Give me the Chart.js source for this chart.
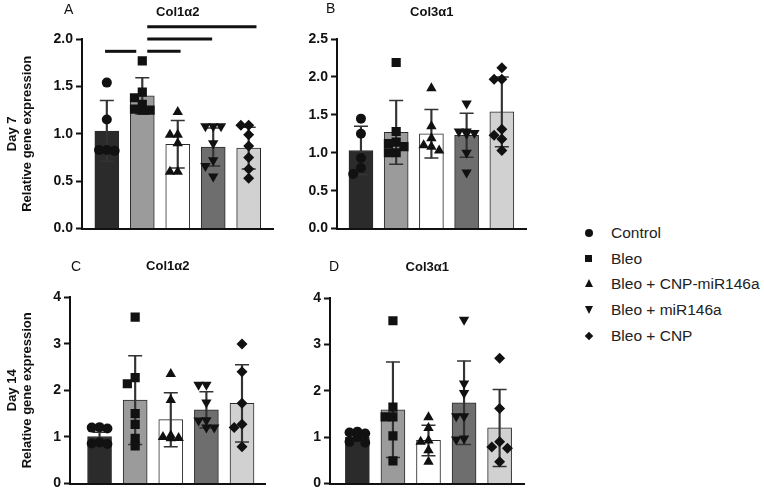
<!DOCTYPE html>
<html>
<head>
<meta charset="utf-8">
<script src="https://cdn.jsdelivr.net/npm/chart.js@4.4.0/dist/chart.umd.min.js"></script>
<style>
  body { margin: 0; background: #fff; width: 764px; height: 498px; position: relative; overflow: hidden;
         font-family: "Liberation Sans", Arial, sans-serif; color: #111; }
  .panel { position: absolute; }
  .letter { position: absolute; font-size: 14px; line-height: 14px; color: #111; }
  .leg { position: absolute; left: 580px; font-size: 15.5px; line-height: 18px; color: #222; white-space: nowrap; }
  .leg span.t { position: absolute; left: 31px; top: 0; }
  .mk { position: absolute; background: #111; }
  .circ { width: 8px; height: 8px; border-radius: 50%; left: 5px; top: 5px; }
  .sq { width: 7px; height: 7px; left: 5px; top: 5px; }
  .up { width: 0; height: 0; background: none; border-left: 4.5px solid transparent; border-right: 4.5px solid transparent; border-bottom: 8px solid #111; left: 4.5px; top: 4px; }
  .dn { width: 0; height: 0; background: none; border-left: 4.5px solid transparent; border-right: 4.5px solid transparent; border-top: 8px solid #111; left: 4.5px; top: 5px; }
  .dia { width: 6px; height: 6px; transform: rotate(45deg); left: 6px; top: 6px; }
</style>
</head>
<body>
<div class="panel" style="left:0;top:0"><canvas id="cA" width="282" height="240"></canvas></div>
<div class="panel" style="left:290px;top:0"><canvas id="cB" width="245" height="240"></canvas></div>
<div class="panel" style="left:0;top:250px"><canvas id="cC" width="274" height="245"></canvas></div>
<div class="panel" style="left:280px;top:250px"><canvas id="cD" width="253" height="245"></canvas></div>

<div class="letter" style="left:64px;top:2px">A</div>
<div class="letter" style="left:326px;top:1px">B</div>
<div class="letter" style="left:71px;top:259px">C</div>
<div class="letter" style="left:329px;top:259px">D</div>

<div class="leg" style="top:224px"><i class="mk circ"></i><span class="t">Control</span></div>
<div class="leg" style="top:250px"><i class="mk sq"></i><span class="t">Bleo</span></div>
<div class="leg" style="top:275px"><i class="mk up"></i><span class="t">Bleo + CNP-miR146a</span></div>
<div class="leg" style="top:301px"><i class="mk dn"></i><span class="t">Bleo + miR146a</span></div>
<div class="leg" style="top:327px"><i class="mk dia"></i><span class="t">Bleo + CNP</span></div>

<script>
Chart.defaults.font.family = '"Liberation Sans", Arial, sans-serif';
Chart.defaults.color = '#111';

const groups = ['Control', 'Bleo', 'Bleo + CNP-miR146a', 'Bleo + miR146a', 'Bleo + CNP'];

// Day 7, Col1a2 (panel A)
const d7Col1Mean = [1.03, 1.40, 0.89, 0.86, 0.85];
const d7Col1Sd = [0.32, 0.19, 0.25, 0.20, 0.22];
const d7Col1Pts = [
  [1.54, 1.15, 0.83, 0.83, 0.82],
  [1.77, 1.44, 1.38, 1.31, 1.26, 1.25, 1.25],
  [1.23, 0.99, 0.99, 0.90, 0.60, 0.60],
  [1.08, 1.08, 1.08, 0.90, 0.72, 0.66, 0.55],
  [1.09, 1.09, 0.99, 0.87, 0.75, 0.63, 0.53]
];
// significance bars in panel A: from / to (group index), height
const sigFrom = [-0.05, 1.14, 1.14, 1.14];
const sigTo = [0.83, 2.08, 2.97, 4.22];
const sigY = [1.87, 1.87, 2.0, 2.13];

// Day 7, Col3a1 (panel B)
const d7Col3Mean = [1.03, 1.27, 1.25, 1.23, 1.54];
const d7Col3Sd = [0.32, 0.42, 0.32, 0.29, 0.46];
const d7Col3Pts = [
  [1.45, 1.25, 0.93, 0.80, 0.72],
  [2.19, 1.28, 1.14, 1.12, 1.08, 1.00, 1.00],
  [1.85, 1.35, 1.19, 1.10, 1.08, 1.03],
  [1.65, 1.28, 1.28, 1.26, 1.25, 1.00, 0.74],
  [2.12, 1.97, 1.97, 1.31, 1.23, 1.18, 1.03]
];

// Day 14, Col1a2 (panel C)
const d14Col1Mean = [1.01, 1.79, 1.37, 1.58, 1.72];
const d14Col1Sd = [0.09, 0.95, 0.58, 0.39, 0.83];
const d14Col1Pts = [
  [1.21, 1.20, 1.18, 0.88, 0.86, 0.85],
  [3.57, 2.27, 2.14, 1.50, 1.27, 0.97, 0.81],
  [2.35, 1.79, 1.03, 1.00, 0.98, 0.97],
  [2.12, 2.12, 1.74, 1.36, 1.35, 1.20, 1.20],
  [2.99, 2.40, 1.72, 1.27, 1.20, 0.79]
];

// Day 14, Col3a1 (panel D)
const d14Col3Mean = [1.00, 1.59, 0.93, 1.74, 1.20];
const d14Col3Sd = [0.08, 1.03, 0.33, 0.90, 0.83];
const d14Col3Pts = [
  [1.12, 1.10, 1.08, 1.00, 0.90, 0.88],
  [3.51, 1.65, 1.44, 1.44, 1.03, 0.49],
  [1.43, 1.20, 0.93, 0.90, 0.72, 0.47],
  [3.53, 2.16, 1.95, 1.45, 1.45, 0.97, 0.95],
  [2.70, 1.62, 0.90, 0.79, 0.76, 0.47]
];

const barColors = ['#2b2b2b', '#9b9b9b', '#ffffff', '#6e6e6e', '#d1d1d1'];
const pointStyles = ['circle', 'rect', 'triangle', 'triangle', 'rectRot'];
const pointRots = [0, 0, 0, 180, 0];
const pointSizes = [5, 6.5, 6, 6, 5.5];

// simple beeswarm so points with close values sit side by side
function swarm(vals, center, pxY) {
  const cand = [0, -0.22, 0.22, -0.11, 0.11, -0.33, 0.33];
  const placed = [];
  return vals.map(v => {
    let off = 0;
    for (const c of cand) {
      if (placed.every(p => Math.hypot((p.o - c) * 36, (p.v - v) * pxY) >= 7.5)) { off = c; break; }
    }
    placed.push({ o: off, v: v });
    return { x: center + off, y: v };
  });
}

function panel(id, c) {
  const datasets = [];
  datasets.push({
    type: 'bar', xAxisID: 'x', yAxisID: 'y', order: 5, grouped: false,
    data: c.mean.map((m, i) => ({ x: i, y: m })),
    backgroundColor: barColors, borderColor: '#2a2a2a', borderWidth: 1,
    barThickness: 24
  });
  datasets.push({
    type: 'bar', xAxisID: 'x', yAxisID: 'y', order: 4, grouped: false,
    data: c.mean.map((m, i) => ({ x: i, y: [m - c.sd[i], m + c.sd[i]] })),
    backgroundColor: '#333', borderWidth: 0, barThickness: 1.5
  });
  datasets.push({
    type: 'scatter', xAxisID: 'x', yAxisID: 'y', order: 3,
    data: c.mean.flatMap((m, i) => [{ x: i, y: m + c.sd[i] }, { x: i, y: m - c.sd[i] }]),
    pointStyle: 'line', pointRadius: 7, borderColor: '#333', borderWidth: 1.5
  });
  c.pts.forEach((vals, i) => {
    datasets.push({
      type: 'scatter', xAxisID: 'x', yAxisID: 'y', order: 1, label: groups[i],
      data: swarm(vals, i, c.pxY),
      pointStyle: pointStyles[i], rotation: pointRots[i], pointRadius: pointSizes[i],
      backgroundColor: '#111', borderColor: '#111', borderWidth: 0
    });
  });
  (c.sig || []).forEach(s => {
    datasets.push({
      type: 'line', xAxisID: 'x', yAxisID: 'y', order: 0, clip: false,
      data: [{ x: s[0], y: s[2] }, { x: s[1], y: s[2] }],
      borderColor: '#111', borderWidth: 3, pointRadius: 0
    });
  });

  new Chart(document.getElementById(id), {
    type: 'bar',
    data: { datasets },
    options: {
      responsive: false,
      animation: false,
      events: [],
      layout: { padding: { left: 0, right: 5, top: 0, bottom: c.padBottom } },
      plugins: { legend: { display: false }, tooltip: { enabled: false } },
      scales: {
        x: {
          type: 'linear', position: 'bottom', min: c.xMin, max: c.xMax, offset: false,
          ticks: { display: false }, grid: { display: false },
          border: { display: true, color: '#111', width: 2 },
          afterFit: s => { s.height = 0; }
        },
        xt: {
          type: 'linear', position: 'top', axis: 'x',
          ticks: { display: false }, grid: { display: false }, border: { display: false },
          title: { display: true, text: c.title, font: { size: 13, weight: 'bold' }, color: '#111',
                   padding: { top: c.titleTop, bottom: 0 } },
          afterFit: s => { s.height = c.topH; }
        },
        y: {
          min: 0, max: c.yMax,
          ticks: { stepSize: c.step, padding: 3, color: '#111', font: { size: 14, weight: 'bold' },
                   callback: v => c.step < 1 ? v.toFixed(1) : String(v) },
          grid: { drawOnChartArea: false, tickLength: 6, tickWidth: 2, color: '#111' },
          border: { display: true, color: '#111', width: 2 },
          title: { display: !!c.yTitle, text: c.yTitle || '', font: { size: 13, weight: 'bold', lineHeight: 1.15 },
                   color: '#111', padding: { top: 5, bottom: 0 } },
          afterFit: s => { s.width = c.yW; }
        }
      }
    }
  });
}

panel('cA', {
  title: 'Col1α2', mean: d7Col1Mean, sd: d7Col1Sd, pts: d7Col1Pts,
  sig: sigFrom.map((f, i) => [f, sigTo[i], sigY[i]]),
  yMax: 2.0, step: 0.5, pxY: 95.5, xMin: -0.7, xMax: 4.7,
  yW: 82, topH: 39, titleTop: 5, padBottom: 10,
  yTitle: ['Day 7', 'Relative gene expression']
});
panel('cB', {
  title: 'Col3α1', mean: d7Col3Mean, sd: d7Col3Sd, pts: d7Col3Pts,
  yMax: 2.5, step: 0.5, pxY: 76.7, xMin: -0.68, xMax: 4.7,
  yW: 47, topH: 39, titleTop: 5, padBottom: 10
});
panel('cC', {
  title: 'Col1α2', mean: d14Col1Mean, sd: d14Col1Sd, pts: d14Col1Pts,
  yMax: 4, step: 1, pxY: 48, xMin: -0.83, xMax: 4.66,
  yW: 70, topH: 47, titleTop: 9, padBottom: 6.5,
  yTitle: ['Day 14', 'Relative gene expression']
});
panel('cD', {
  title: 'Col3α1', mean: d14Col3Mean, sd: d14Col3Sd, pts: d14Col3Pts,
  yMax: 4, step: 1, pxY: 48, xMin: -0.77, xMax: 4.7,
  yW: 50, topH: 48, titleTop: 10, padBottom: 4.5
});
</script>
</body>
</html>
